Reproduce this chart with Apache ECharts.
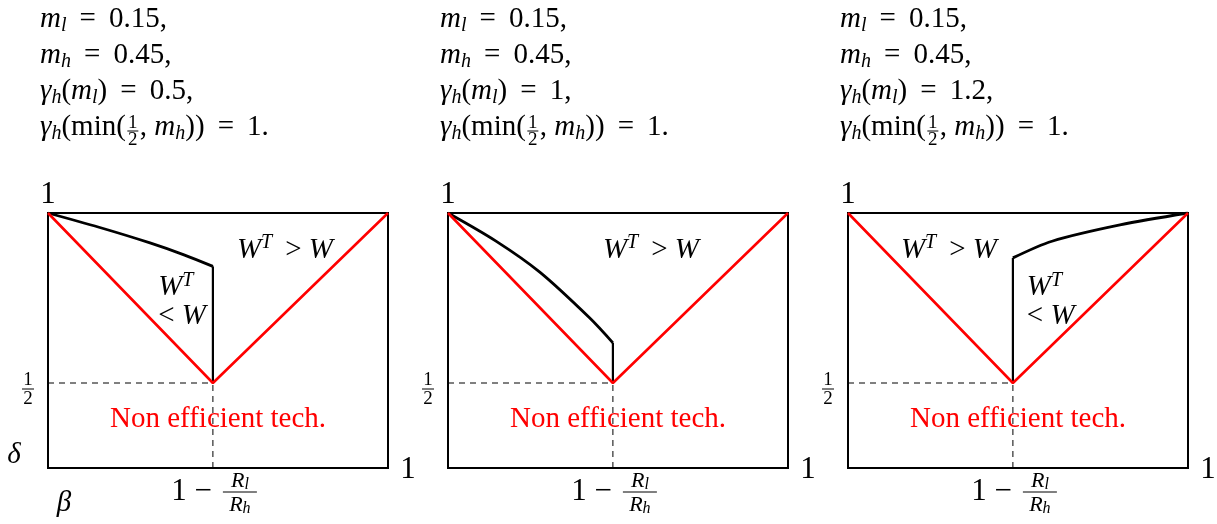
<!DOCTYPE html>
<html>
<head>
<meta charset="UTF-8">
<title>technology regions</title>
<style>
  html, body, #chart { margin: 0; padding: 0; width: 100%; height: 100%; background: #fff; }
</style>
</head>
<body>
<div id="chart"></div>
<script src="https://cdn.jsdelivr.net/npm/echarts@6/dist/echarts.min.js"></script>
<script>
// ---- values ----
var threshold = 0.485;          // 1 - Rl/Rh on the beta axis
var halfDelta = 0.5;
var yMin = 0.25;                // the box bottom sits a bit above delta = 0 in the sketch
var mLow = '0.15';
var mHigh = '0.45';
var gammaLow = ['0.5', '1', '1.2'];   // gamma_h(m_l), one per panel
var gammaHigh = '1';

var redV = [[0, 1], [threshold, halfDelta], [1, 1]];
var curve1 = [[0, 1], [0.15, 0.958], [0.30, 0.912], [0.40, 0.877], [threshold, 0.843]];
var curve2 = [[0, 1], [0.14, 0.918], [0.27, 0.826], [0.417, 0.691], [threshold, 0.618]];
var curve3 = [[threshold, 0.868], [0.60, 0.917], [0.80, 0.965], [1, 1]];
var curves = [curve1, curve2, curve3];
var wallTop = [0.843, 0.618, 0.868];

// ---- layout ----
var panelLeft = [48, 448, 848];
var boxW = 340, boxH = 255, boxTop = 213;
// where the region labels sit, in data coords
var bigNote = [[0.697, 0.891], [0.597, 0.891], [0.297, 0.891]];
var smallNote = [[0.324, 0.78], null, [0.526, 0.78]];
var redNote = [0.5, 0.394];

var FAM = '"Liberation Serif", "DejaVu Serif", serif';
var ST = {
  r:  { size: 29, italic: false, lh: 34 },
  i:  { size: 29, italic: true,  lh: 34 },
  s:  { size: 20, italic: true,  lh: 22, va: 'bottom' },
  p:  { size: 20, italic: true,  lh: 22, va: 'top' },
  B:  { size: 31, italic: false, lh: 34 },
  q:  { size: 19, italic: false, lh: 18 },
  fi: { size: 22, italic: true,  lh: 24 },
  fs: { size: 16, italic: true,  lh: 16, va: 'bottom' },
  red: { size: 29, italic: false, lh: 34, color: '#f00' }
};
var rich = {};
Object.keys(ST).forEach(function (k) {
  var s = ST[k];
  rich[k] = {
    fontFamily: FAM, fontSize: s.size, fontStyle: s.italic ? 'italic' : 'normal',
    lineHeight: s.lh, verticalAlign: s.va || 'middle', fill: s.color || '#000'
  };
});

var ctx = document.createElement('canvas').getContext('2d');
function tokWidth(tokens) {
  var w = 0;
  tokens.forEach(function (t) {
    var s = ST[t[0]];
    ctx.font = (s.italic ? 'italic ' : '') + s.size + 'px ' + FAM;
    w += ctx.measureText(t[1]).width;
  });
  return w;
}
function rt(tokens) {
  return tokens.map(function (t) { return '{' + t[0] + '|' + t[1] + '}'; }).join('');
}
function txt(x, y, tokens, align) {
  return {
    type: 'text', x: x, y: y, silent: true,
    style: { text: rt(tokens), rich: rich, align: align || 'left', verticalAlign: 'middle' }
  };
}
function frac(cx, cy, num, den, barW, up, down) {
  return [
    txt(cx, cy - up, num, 'center'),
    { type: 'line', silent: true, shape: { x1: cx - barW / 2, y1: cy, x2: cx + barW / 2, y2: cy },
      style: { stroke: '#000', lineWidth: 1 } },
    txt(cx, cy + down, den, 'center')
  ];
}

var grids = [], xAxes = [], yAxes = [], series = [];
var dash = { color: '#000', width: 1, type: [6, 5] };
for (var i = 0; i < 3; i++) {
  grids.push({ left: panelLeft[i], top: boxTop, width: boxW, height: boxH, show: true,
    borderColor: '#000', borderWidth: 2, backgroundColor: 'transparent' });
  xAxes.push({ gridIndex: i, type: 'value', min: 0, max: 1, show: false });
  yAxes.push({ gridIndex: i, type: 'value', min: yMin, max: 1, show: false });
  var ax = { xAxisIndex: i, yAxisIndex: i, type: 'line', symbol: 'none', silent: true };
  series.push(Object.assign({}, ax, { data: [[0, halfDelta], [threshold, halfDelta]], lineStyle: dash, z: 1 }));
  series.push(Object.assign({}, ax, { data: [[threshold, yMin], [threshold, halfDelta]], lineStyle: dash, z: 1 }));
  series.push(Object.assign({}, ax, { data: curves[i], smooth: 0.3,
    lineStyle: { color: '#000', width: 2.8 }, z: 2 }));
  series.push(Object.assign({}, ax, { data: [[threshold, halfDelta], [threshold, wallTop[i]]],
    lineStyle: { color: '#000', width: 2.2 }, z: 2 }));
  series.push(Object.assign({}, ax, { data: redV, lineStyle: { color: '#f00', width: 2.6 }, z: 3 }));
}

var chart = echarts.init(document.getElementById('chart'));
chart.setOption({
  animation: false,
  backgroundColor: '#fff',
  grid: grids, xAxis: xAxes, yAxis: yAxes, series: series
});

var els = [];
for (var k = 0; k < 3; k++) {
  var P = function (pt) { return chart.convertToPixel({ gridIndex: k }, pt); };
  var left = panelLeft[k] - 8;
  var y0 = 19, step = 36;
  els.push(txt(left, y0, [['i', 'm'], ['s', 'l'], ['r', ' \u2009=\u2009 ' + mLow + ',']]));
  els.push(txt(left, y0 + step, [['i', 'm'], ['s', 'h'], ['r', ' \u2009=\u2009 ' + mHigh + ',']]));
  els.push(txt(left, y0 + 2 * step, [['i', '\u03b3'], ['s', 'h'], ['r', '('], ['i', 'm'], ['s', 'l'],
    ['r', ') \u2009=\u2009 ' + gammaLow[k] + ',']]));
  var pre = [['i', '\u03b3'], ['s', 'h'], ['r', '(min(']];
  var pw = tokWidth(pre);
  var y4 = y0 + 3 * step;
  els.push(txt(left, y4, pre));
  els = els.concat(frac(left + pw + 7, y4 + 4, [['q', '1']], [['q', '2']], 11, 8, 9));
  els.push(txt(left + pw + 14, y4, [['r', ', '], ['i', 'm'], ['s', 'h'], ['r', ')) \u2009=\u2009 ' + gammaHigh + '.']]));

  // box labels
  var tl = P([0, 1]);
  els.push(txt(tl[0], tl[1] - 18, [['B', '1']], 'center'));
  var br = P([1, yMin]);
  els.push(txt(br[0] + 20, br[1] + 2, [['B', '1']], 'center'));
  var hl = P([0, halfDelta]);
  els = els.concat(frac(hl[0] - 20, hl[1] + 6, [['q', '1']], [['q', '2']], 12, 9, 10));
  var tb = P([threshold, yMin]);
  els.push(txt(tb[0] - 1, tb[1] + 24, [['B', '1 \u2212']], 'right'));
  els = els.concat(frac(tb[0] + 27, tb[1] + 24, [['fi', 'R'], ['fs', 'l']], [['fi', 'R'], ['fs', 'h']], 34, 11, 13));

  // region labels
  var bn = P(bigNote[k]);
  els.push(txt(bn[0], bn[1], [['i', 'W'], ['p', 'T'], ['r', ' \u2009> '], ['i', 'W']], 'center'));
  if (smallNote[k]) {
    var sn = P(smallNote[k]);
    els.push(txt(sn[0], sn[1], [['i', 'W'], ['p', 'T']]));
    var sn2 = P([smallNote[k][0], smallNote[k][1] - 0.085]);
    els.push(txt(sn2[0], sn2[1], [['r', '< '], ['i', 'W']]));
  }
  var rn = P(redNote);
  els.push(txt(rn[0], rn[1], [['red', 'Non efficient tech.']], 'center'));

  if (k === 0) {
    var o = P([0, yMin]);
    els.push(txt(o[0] - 34, o[1] - 13, [['i', '\u03b4']], 'center'));
    els.push(txt(o[0] + 16, o[1] + 35, [['i', '\u03b2']], 'center'));
  }
}
chart.setOption({ graphic: { elements: els } });
</script>
</body>
</html>
